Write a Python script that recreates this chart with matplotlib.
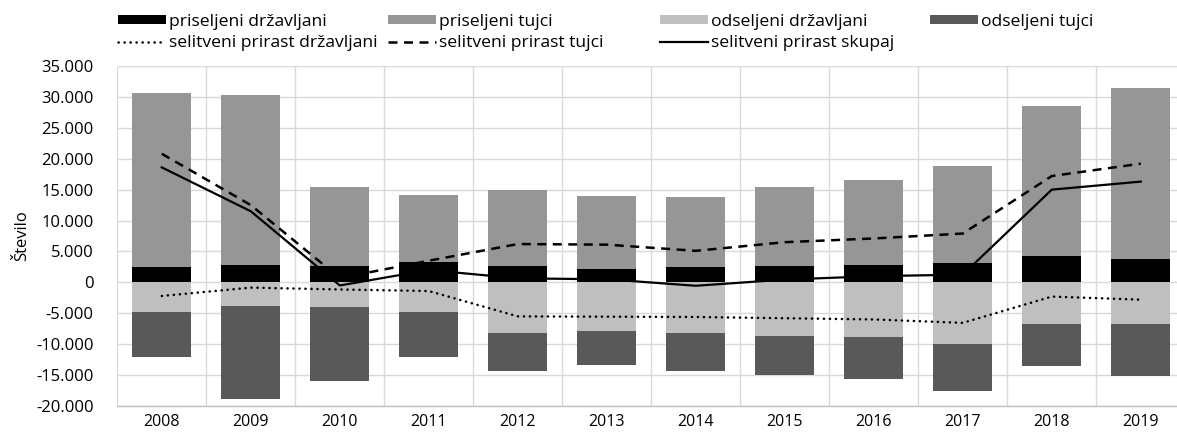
import numpy as np
import matplotlib
matplotlib.use("Agg")
import matplotlib.pyplot as plt
from matplotlib.patches import Patch
from matplotlib.lines import Line2D
from matplotlib.ticker import FuncFormatter, FixedLocator

plt.rcParams['font.family'] = ['Open Sans', 'DejaVu Sans']

years = ['2008', '2009', '2010', '2011', '2012', '2013', '2014', '2015', '2016', '2017', '2018', '2019']
priseljeni_drzavljani = [2500, 2800, 2600, 3300, 2600, 2150, 2500, 2700, 2800, 3200, 4250, 3700]
priseljeni_tujci = [28200, 27500, 12800, 10800, 12400, 11750, 11300, 12700, 13800, 15700, 24250, 27700]
odseljeni_drzavljani = [-4800, -3800, -4000, -4750, -8250, -7850, -8200, -8750, -8850, -9950, -6700, -6700]
odseljeni_tujci = [-7300, -15000, -12000, -7300, -6150, -5550, -6200, -6200, -6750, -7650, -6850, -8400]
prirast_drzavljani = [-2200, -850, -1150, -1400, -5500, -5550, -5600, -5800, -6000, -6550, -2300, -2800]
prirast_tujci = [20800, 12500, 700, 3500, 6200, 6100, 5100, 6500, 7100, 7900, 17200, 19200]
prirast_skupaj = [18600, 11500, -500, 2000, 650, 500, -550, 450, 1000, 1250, 15000, 16300]

W, H = 1177, 433
fig = plt.figure(figsize=(W / 100, H / 100), dpi=100)
ax = fig.add_axes([117.3 / W, 27 / H, (1185.3 - 117.3) / W, 340 / H])

c_pd = '#000000'
c_pt = '#969696'
c_od = '#bfbfbf'
c_ot = '#595959'

x = np.arange(len(years))
bw = 0.663
ax.bar(x, priseljeni_drzavljani, bw, color=c_pd, zorder=2)
ax.bar(x, priseljeni_tujci, bw, bottom=priseljeni_drzavljani, color=c_pt, zorder=2)
ax.bar(x, odseljeni_drzavljani, bw, color=c_od, zorder=2)
ax.bar(x, odseljeni_tujci, bw, bottom=odseljeni_drzavljani, color=c_ot, zorder=2)

lw = 1.8
dot_style = (0, (0.1, 2.3))
dash_style = (0, (3.6, 2.6))
ax.plot(x, prirast_drzavljani, color='black', lw=lw, linestyle=dot_style,
        dash_capstyle='round', zorder=3)
ax.plot(x, prirast_tujci, color='black', lw=lw, linestyle=dash_style, zorder=3)
ax.plot(x, prirast_skupaj, color='black', lw=1.6, zorder=3)

ax.set_xlim(-0.5, len(years) - 0.5)
ax.set_ylim(-20000, 35000)
ax.set_yticks(np.arange(-20000, 35001, 5000))
ax.yaxis.set_major_formatter(FuncFormatter(lambda v, p: f"{int(v):,}".replace(',', '.')))
ax.set_xticks(x)
ax.set_xticklabels(years)
ax.xaxis.set_minor_locator(FixedLocator(np.arange(-0.5, len(years), 1)))
ax.grid(axis='y', which='major', color='#d9d9d9', lw=1, zorder=0)
ax.grid(axis='x', which='minor', color='#d9d9d9', lw=1, zorder=0)
ax.set_axisbelow(True)
for s in ['top', 'right', 'left']:
    ax.spines[s].set_visible(False)
ax.spines['bottom'].set_color('#bfbfbf')
ax.spines['bottom'].set_linewidth(1)
ax.tick_params(axis='both', which='both', length=0, labelsize=12, colors='black')
ax.tick_params(axis='x', labelsize=11.5, pad=6)
ax.tick_params(axis='y', pad=17)
ax.set_ylabel('Število', fontsize=12, labelpad=4)

# legend: one small legend per item, placed in a 4x2 grid
fs = 12.6
fpx = fs * 100 / 72
items = [
    (Patch(facecolor=c_pd), 'priseljeni državljani', 118, 21.5),
    (Patch(facecolor=c_pt), 'priseljeni tujci', 388, 21.5),
    (Patch(facecolor=c_od), 'odseljeni državljani', 660, 21.5),
    (Patch(facecolor=c_ot), 'odseljeni tujci', 930, 21.5),
    (Line2D([], [], color='black', lw=lw, linestyle=dot_style, dash_capstyle='round'),
     'selitveni prirast državljani', 118, 43),
    (Line2D([], [], color='black', lw=lw, linestyle=dash_style), 'selitveni prirast tujci', 388, 43),
    (Line2D([], [], color='black', lw=1.6), 'selitveni prirast skupaj', 660, 43),
]
for h, lab, px, py in items:
    fig.legend([h], [lab], loc='center left', bbox_to_anchor=(px / W, 1 - py / H),
               frameon=False, borderpad=0, borderaxespad=0, fontsize=fs,
               handlelength=48 / fpx, handleheight=8 / fpx, handletextpad=3 / fpx)

fig.savefig('out.png', dpi=100)
